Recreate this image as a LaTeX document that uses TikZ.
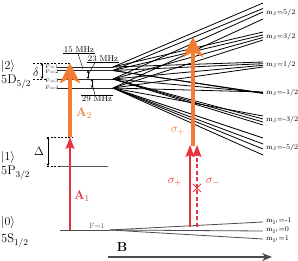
\documentclass[tikz,border=0pt]{standalone}
\usepackage{amsmath,amssymb}
\usepackage{xcolor}
\usepackage{tikz}
\usetikzlibrary{arrows.meta,positioning,calc}
\definecolor{laserred}{RGB}{232,52,62}
\definecolor{laserorange}{RGB}{242,125,50}

\begin{document}
\begin{tikzpicture}[
    x=1pt, y=-1pt,
    level/.style={draw=black!85, line width=0.8pt},
    gndlevel/.style={draw=black!70, line width=0.8pt},
    fan/.style={draw=black, line width=0.8pt},
    dashlevel/.style={draw=black, dash pattern=on 2pt off 1.5pt, line width=0.6pt},
    gap/.style={draw=black, {Stealth[length=2.5pt,width=2.5pt]}-{Stealth[length=2.5pt,width=2.5pt]}, line width=0.45pt},
    statelbl/.style={anchor=base west, font=\fontsize{12.5}{13}\selectfont, inner sep=0pt},
    flbl/.style={font=\fontsize{5.2}{5.5}\selectfont, text=black!85, inner sep=0pt},
    mjlbl/.style={anchor=west, font=\fontsize{7.2}{7.5}\selectfont, inner sep=0pt},
    mhz/.style={font=\fontsize{8.5}{9}\selectfont, inner sep=1pt},
    redarrow/.style={draw=laserred, line width=1.3pt, -{Stealth[length=12pt,width=9pt,inset=2pt]}},
    orangearrow/.style={draw=laserorange, line width=4.5pt, -{Stealth[length=20pt,width=20pt,inset=5pt]}},
    redlbl/.style={text=laserred, font=\fontsize{12.5}{13}\selectfont},
    orangelbl/.style={text=laserorange, font=\fontsize{12.5}{13}\selectfont}
]
    \useasboundingbox (0,0) rectangle (298,261);

    % State labels
    \node (s2) at (1,70) [statelbl] {$|2\rangle$};
    \node (d52) at (1,84) [statelbl] {5D$_{5/2}$};
    \node (s1) at (1,161) [statelbl] {$|1\rangle$};
    \node (p32) at (1,175) [statelbl] {5P$_{3/2}$};
    \node (s0) at (1,226) [statelbl] {$|0\rangle$};
    \node (s12) at (1,243) [statelbl] {5S$_{1/2}$};

    % 5D hyperfine levels
    \coordinate (F1) at (113,67);
    \coordinate (F2) at (113,70.5);
    \coordinate (F3) at (113,79);
    \coordinate (F4) at (113,88);
    \draw [level] (57,67) -- (F1);
    \draw [level] (57,70.5) -- (F2);
    \draw [level] (57,79) -- (F3);
    \draw [level] (57,88) -- (F4);
    \node (lf1) at (52,66.5) [flbl] {F=1};
    \node (lf2) at (52,72) [flbl] {F=2};
    \node (lf3) at (52,81) [flbl] {F=3};
    \node (lf4) at (52,88) [flbl] {F=4};

    % detuning delta
    \draw [dashlevel] (33,63) -- (70,63);
    \draw [dashlevel] (33,79) -- (47,79);
    \draw [gap] (42,63) -- (42,79);
    \node (dl) at (36,72) [font=\fontsize{12.5}{13}\selectfont] {$\delta$};

    % Paschen-Back fan
    \foreach \yr in {3,32,62} \draw [fan] (F1) -- (263,\yr);
    \foreach \yr in {8.5,35,63.7,93,93.5} \draw [fan] (F2) -- (263,\yr);
    \foreach \yr in {12,37.5,65.3,92.5,119,122,125} \draw [fan] (F3) -- (263,\yr);
    \foreach \yr in {19,40,67,92,116,138,144,149,155} \draw [fan] (F4) -- (263,\yr);
    \node (mj1) at (266,12.5) [mjlbl] {m$_\mathrm{J}$=5/2};
    \node (mj2) at (266,36.5) [mjlbl] {m$_\mathrm{J}$=3/2};
    \node (mj3) at (266,64.5) [mjlbl] {m$_\mathrm{J}$=1/2};
    \node (mj4) at (266,92.5) [mjlbl] {m$_\mathrm{J}$=-1/2};
    \node (mj5) at (266,120) [mjlbl] {m$_\mathrm{J}$=-3/2};
    \node (mj6) at (266,148) [mjlbl] {m$_\mathrm{J}$=-5/2};

    % splittings
    \node (m15) at (79,49.5) [mhz] {15 MHz};
    \node (m23) at (103,58.5) [mhz] {23 MHz};
    \node (m29) at (97,99) [mhz] {29 MHz};
    \coordinate (g12) at (83,68.8);
    \coordinate (g23) at (88,74.8);
    \coordinate (g34) at (92,83.5);
    \draw [line width=0.45pt] (m15.south west) -- (m15.south east);
    \draw [line width=0.45pt] (m23.south west) -- (m23.south east);
    \draw [line width=0.45pt] (m29.north west) -- (m29.north east);
    \draw [line width=0.45pt] ($(m15.south)+(-1,0)$) -- (g12);
    \draw [line width=0.45pt] ($(m23.south)+(-8,0)$) -- (g23);
    \draw [line width=0.45pt] ($(m29.north)+(-2,0)$) -- (g34);
    \draw [gap] (g23|-F2) -- (g23|-F3);
    \draw [gap] (g34|-F3) -- (g34|-F4);

    % 5P level
    \draw [level, draw=black!65] (60,166) -- (108,166);
    \draw [dashlevel] (47,137) -- (72,137);
    \draw [dashlevel] (47,166) -- (60,166);
    \draw [gap] (48,137) -- (48,166);
    \node (dL) at (39,151) [font=\fontsize{12.5}{13}\selectfont] {$\Delta$};

    % ground level
    \coordinate (G) at (110,230);
    \draw [gndlevel] (60,230) -- (G);
    \foreach \yr in {222,231,239} \draw [gndlevel] (G) -- (263,\yr);
    \node (gf1) at (97,226) [font=\fontsize{7.5}{8}\selectfont, text=black!60, inner sep=0pt] {F=1};
    \node (mi1) at (266,221.5) [mjlbl] {m$_{\mathrm{I}'}$=-1};
    \node (mi2) at (266,230.5) [mjlbl] {m$_{\mathrm{I}'}$=0};
    \node (mi3) at (266,239.5) [mjlbl] {m$_{\mathrm{I}'}$=1};

    % excitation A1, A2
    \draw [orangearrow] (70,137) -- (70,63);
    \draw [redarrow] (70,230) -- (70,137);
    \node (a1) at (82,196) [redlbl] {\textbf{A}$_1$};
    \node (a2) at (84,113) [orangelbl] {\textbf{A}$_2$};

    % excitation at high field
    \draw [orangearrow] (193,146) -- (193,37);
    \draw [redarrow] (190,227) -- (190,145);
    \draw [redarrow, dash pattern=on 4pt off 2.5pt] (197,227) -- (197,145);
    \draw [draw=laserred, line width=0.8pt] (193,184) -- (201,192) (193,192) -- (201,184);
    \node (sp) at (175,182) [redlbl] {$\sigma_+$};
    \node (sm) at (213,182) [redlbl] {$\sigma_-$};
    \node (sp2) at (178,131) [orangelbl] {$\sigma_+$};

    % magnetic field
    \coordinate (b0) at (108,257);
    \coordinate (b1) at (272,257);
    \draw [draw=black!70, line width=1.3pt, -{Stealth[length=10pt,width=8pt]}] (b0) -- (b1);
    \node (bl) at (122,247) [font=\fontsize{13}{14}\selectfont\bfseries] {B};
\end{tikzpicture}
\end{document}
